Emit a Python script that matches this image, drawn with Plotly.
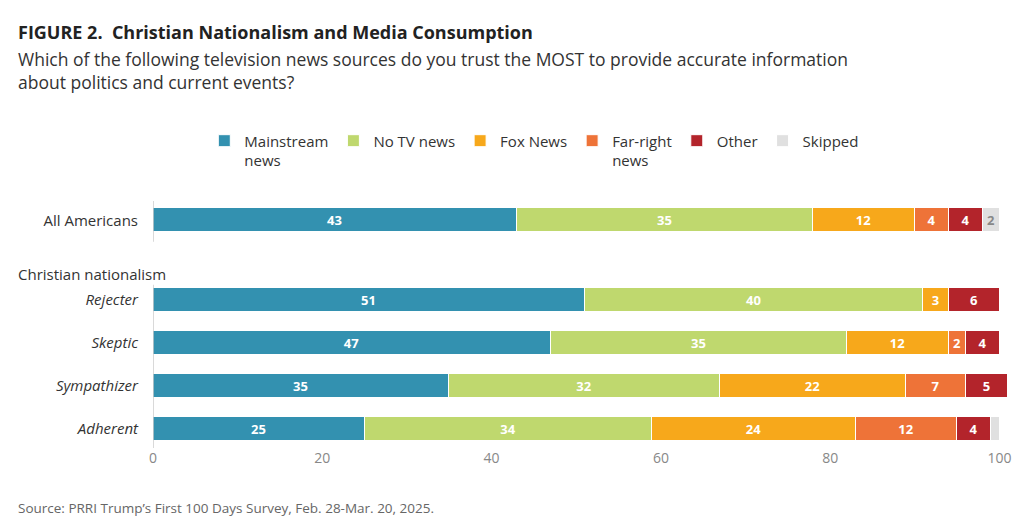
import plotly.graph_objects as go

groups = ["All Americans", "Rejecter", "Skeptic", "Sympathizer", "Adherent"]
group_labels = ["All Americans", "<i>Rejecter</i>", "<i>Skeptic</i>", "<i>Sympathizer</i>", "<i>Adherent</i>"]
y_pos = [0, 1.85, 2.85, 3.85, 4.85]

series = ["Mainstream<br>news", "No TV news", "Fox News", "Far-right<br>news", "Other", "Skipped"]
colors = ["#3391B0", "#BFD86E", "#F7A81B", "#EE7338", "#B3242B", "#E0E0E0"]
text_colors = ["white", "white", "white", "white", "white", "#888888"]
values = [
    [43, 51, 47, 35, 25],  # Mainstream
    [35, 40, 35, 32, 34],  # No TV news
    [12, 3, 12, 22, 24],   # Fox News
    [4, 0, 2, 7, 12],      # Far-right
    [4, 6, 4, 5, 4],       # Other
    [2, 0, 0, 0, 1],       # Skipped
]

fig = go.Figure()
for name, vals, col, tcol in zip(series, values, colors, text_colors):
    labels = ["<b>%d</b>" % v if v >= 2 else "" for v in vals]
    fig.add_trace(go.Bar(
        y=y_pos, x=vals, name=name, orientation="h", width=0.56,
        marker=dict(color=col, line=dict(color="white", width=1)),
        text=labels, textposition="inside", insidetextanchor="middle",
        textangle=0, constraintext="none",
        textfont=dict(color=tcol, size=13, family="Open Sans"),
        cliponaxis=False,
    ))

# axis line at zero, broken between sections
for y0, y1 in [(-0.45, 0.5), (1.5, 5.3)]:
    fig.add_shape(type="line", x0=0, x1=0, y0=y0, y1=y1, xref="x", yref="y",
                  line=dict(color="#CCCCCC", width=1.5))

fig.add_annotation(text="<b>FIGURE 2.  Christian Nationalism and Media Consumption</b>",
                   xref="paper", yref="paper", x=-0.16, y=1.74, yanchor="top",
                   xanchor="left", showarrow=False, font=dict(size=18, color="#222"))
fig.add_annotation(text="Which of the following television news sources do you trust the MOST to provide accurate information<br>about politics and current events?",
                   xref="paper", yref="paper", x=-0.16, y=1.63, yanchor="top",
                   xanchor="left", showarrow=False, align="left",
                   font=dict(size=17.5, color="#333"))
fig.add_annotation(text="Christian nationalism", xref="paper", yref="y", x=-0.16, y=1.25,
                   xanchor="left", showarrow=False, font=dict(size=15, color="#333"))
fig.add_annotation(text="Source: PRRI Trump’s First 100 Days Survey, Feb. 28-Mar. 20, 2025.",
                   xref="paper", yref="paper", x=-0.16, y=-0.2, yanchor="top",
                   xanchor="left", showarrow=False, font=dict(size=13.5, color="#666"))

fig.update_layout(
    width=1024, height=528, barmode="stack",
    margin=dict(l=145, r=24, t=193, b=88),
    plot_bgcolor="white", paper_bgcolor="white",
    font=dict(family="Open Sans", color="#333"),
    bargap=0,
    legend=dict(orientation="h", x=0.06, y=1.31, xanchor="left", yanchor="top",
                font=dict(size=15), itemwidth=30, traceorder="normal",
                valign="top", tracegroupgap=0),
    xaxis=dict(range=[0, 101], tickvals=[0, 20, 40, 60, 80, 100], showgrid=False,
               zeroline=False, tickfont=dict(size=14, color="#888")),
    yaxis=dict(range=[5.3, -0.45], tickvals=y_pos, ticktext=group_labels,
               showgrid=False, zeroline=False, ticks="", ticklabelstandoff=14,
               tickfont=dict(size=15, color="#333")),
)

fig.write_html("out.html")
